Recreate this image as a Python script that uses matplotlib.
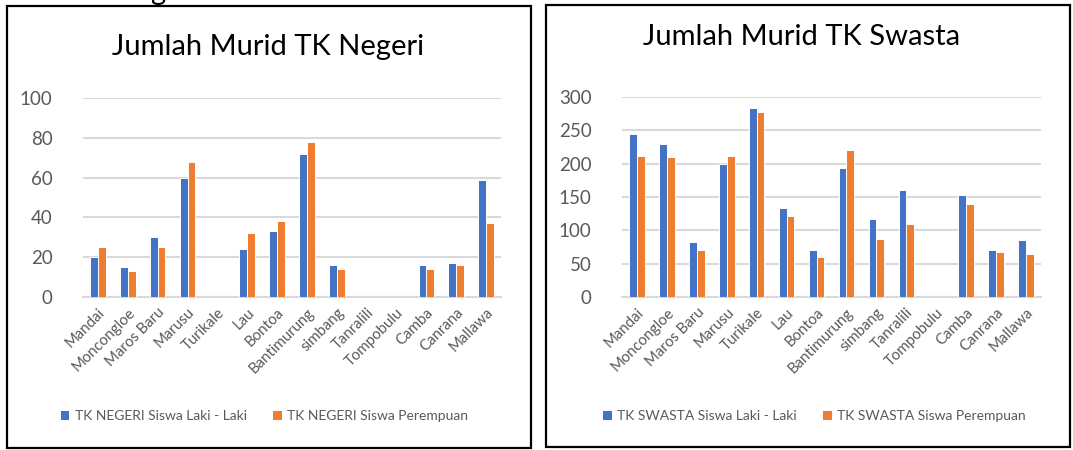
import matplotlib
matplotlib.use("Agg")
import matplotlib.pyplot as plt
from matplotlib.patches import Rectangle
import numpy as np

plt.rcParams['font.family'] = ['Lato', 'DejaVu Sans']

categories = ["Mandai", "Moncongloe", "Maros Baru", "Marusu", "Turikale", "Lau",
              "Bontoa", "Bantimurung", "simbang", "Tanralili", "Tompobulu",
              "Camba", "Canrana", "Mallawa"]

negeri_laki = [20, 15, 30, 60, 0, 24, 33, 72, 16, 0, 0, 16, 17, 59]
negeri_perempuan = [25, 13, 25, 68, 0, 32, 38, 78, 14, 0, 0, 14, 16, 37]

swasta_laki = [245, 229, 83, 199, 284, 134, 71, 193, 117, 161, 0, 153, 70, 85]
swasta_perempuan = [212, 210, 70, 211, 278, 122, 60, 221, 87, 109, 0, 139, 67, 65]

negeri_ticks = [0, 20, 40, 60, 80, 100]
swasta_ticks = [0, 50, 100, 150, 200, 250, 300]

BLUE = "#4472C4"
ORANGE = "#ED7D31"
GRAY = "#595959"
GRID = "#D9D9D9"

W, H = 1073, 450
fig = plt.figure(figsize=(W / 100, H / 100), dpi=100)


def fx(px):
    return px / W


def fy(py):
    return 1 - py / H


def panel(x0, x1, y_top, y_zero, laki, perempuan, ticks, title, title_xy,
          legend_labels, legend_y, legend_cx, box):
    ax = fig.add_axes([fx(x0), fy(y_zero), fx(x1 - x0), (y_zero - y_top) / H])
    x = np.arange(len(categories))
    w = 0.26
    ax.bar(x - w / 2, laki, w, color=BLUE, edgecolor="white", linewidth=0.7,
           label=legend_labels[0], zorder=3)
    ax.bar(x + w / 2, perempuan, w, color=ORANGE, edgecolor="white", linewidth=0.7,
           label=legend_labels[1], zorder=3)
    ax.set_xlim(-0.5, len(categories) - 0.5)
    ax.set_ylim(ticks[0], ticks[-1])
    ax.set_yticks(ticks)
    ax.set_yticklabels([str(t) for t in ticks], fontsize=13.5, color=GRAY)
    ax.set_xticks(x)
    ax.set_xticklabels(categories, rotation=45, ha="right", rotation_mode="anchor",
                       fontsize=10.8, color=GRAY)
    ax.tick_params(axis="both", length=0)
    ax.tick_params(axis="y", pad=22)
    ax.tick_params(axis="x", pad=6)
    for s in ax.spines.values():
        s.set_visible(False)
    ax.grid(axis="y", color=GRID, linewidth=1.5, zorder=0)
    ax.set_axisbelow(True)
    ax.axhline(0, color=GRID, linewidth=1.5, zorder=1, clip_on=False)
    fig.text(fx(title_xy[0]), fy(title_xy[1]), title, ha="center", va="center",
             fontsize=21, color="black")
    ax.legend(loc="center", bbox_to_anchor=(fx(legend_cx), fy(legend_y)),
              bbox_transform=fig.transFigure, ncol=2, frameon=False,
              fontsize=10, labelcolor=GRAY, handlelength=0.7, handleheight=0.7,
              handletextpad=0.4, columnspacing=1.8)
    bx0, by0, bx1, by1 = box
    fig.patches.append(Rectangle((fx(bx0), fy(by1)), fx(bx1 - bx0), (by1 - by0) / H,
                                 transform=fig.transFigure, fill=False,
                                 edgecolor="black", linewidth=1.6))
    return ax


panel(83, 501, 98, 297, negeri_laki, negeri_perempuan, negeri_ticks,
      "Jumlah Murid TK Negeri", (268, 47),
      ["TK NEGERI Siswa Laki - Laki", "TK NEGERI Siswa Perempuan"], 416, 264,
      (7, 6, 531, 448))

panel(622, 1041, 97, 297, swasta_laki, swasta_perempuan, swasta_ticks,
      "Jumlah Murid TK Swasta", (802, 37),
      ["TK SWASTA Siswa Laki - Laki", "TK SWASTA Siswa Perempuan"], 416, 814,
      (546, 5, 1070, 447))

fig.text(fx(150), 1.0, "g", ha="left", va="baseline", fontsize=21, color="black")

fig.savefig("out.png", dpi=100, facecolor="white")
